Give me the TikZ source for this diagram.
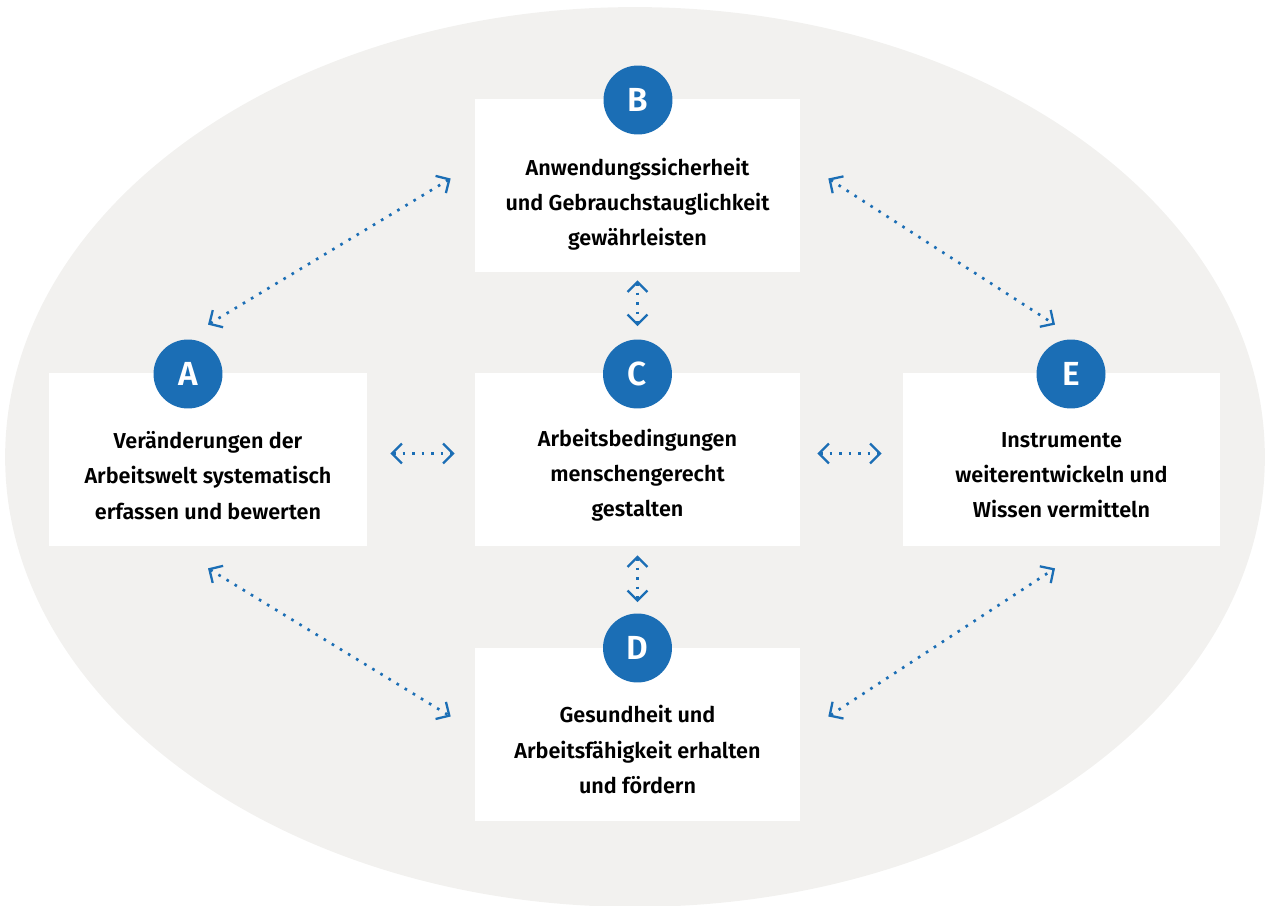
\documentclass[tikz,border=0pt]{standalone}
\usepackage{fontspec}
\setmainfont{Fira Sans}[BoldFont={Fira Sans SemiBold}]
\usepackage{tikz}
\usetikzlibrary{calc,arrows.meta}
\definecolor{oval}{HTML}{F2F1EF}
\definecolor{baua}{HTML}{1B6EB5}

\begin{document}
\begin{tikzpicture}[x=0.02cm,y=-0.02cm,font=\bfseries\fontsize{12.3}{20}\selectfont,
  box/.style={fill=white,minimum width=6.5cm,minimum height=3.46cm,inner sep=0pt},
  boxtext/.style={align=center,inner sep=0pt},
  badge/.style={circle,fill=baua,text=white,minimum size=1.38cm,inner sep=0pt,font=\bfseries\fontsize{19}{19}\selectfont},
  link/.style={baua,line width=1.5pt,dash pattern=on 1.5pt off 3.9pt,
    {Straight Barb[length=0.2cm,width=0.4cm,line width=1.3pt]}-{Straight Barb[length=0.2cm,width=0.4cm,line width=1.3pt]}}]
  \useasboundingbox (0,0) rectangle (1269,906);
  \fill[oval] (635,457) ellipse [x radius=12.6cm, y radius=9cm];

  % boxes
  \node[box,minimum width=6.36cm] (A) at (208,459.5) {};
  \node[box] (B) at (637.5,185.5) {};
  \node[box] (C) at (637.5,459.5) {};
  \node[box] (D) at (637.5,734.5) {};
  \node[box,minimum width=6.34cm] (E) at (1061.5,459.5) {};

  \node[boxtext] (Atext) at ([yshift=-0.32cm]A.center) {Veränderungen der\\Arbeitswelt systematisch\\erfassen und bewerten};
  \node[boxtext] (Btext) at ([yshift=-0.38cm]B.center) {Anwendungssicherheit\\und Gebrauchstauglichkeit\\gewährleisten};
  \node[boxtext] (Ctext) at ([yshift=-0.32cm]C.center) {Arbeitsbedingungen\\menschengerecht\\gestalten};
  \node[boxtext] (Dtext) at ([yshift=-0.30cm]D.center) {Gesundheit und\\Arbeitsfähigkeit erhalten\\und fördern};
  \node[boxtext] (Etext) at ([yshift=-0.32cm]E.center) {Instrumente\\weiterentwickeln und\\Wissen vermitteln};

  % letters
  \node[badge] (Abadge) at (188,374) {A};
  \node[badge] (Bbadge) at (638,100) {B};
  \node[badge] (Cbadge) at (637.5,374) {C};
  \node[badge] (Dbadge) at (637.5,648) {D};
  \node[badge] (Ebadge) at (1071,374) {E};

  % links
  \draw[link] ($(A.east)+(23,-6)$) -- ($(C.west)+(-20,-6)$);
  \draw[link] ($(C.east)+(17,-6)$) -- ($(E.west)+(-21,-6)$);
  \draw[link] ($(B.south)+(0,8)$) -- ($(Cbadge.north)+(0,-13)$);
  \draw[link] ($(C.south)+(0,9)$) -- ($(Dbadge.north)+(0,-11)$);
  \draw[link] ($(A.north)+(0,-48)$) -- ($(B.west)+(-24,-7)$);
  \draw[link] ($(B.east)+(28,-7)$) -- ($(E.north)+(-6.5,-48)$);
  \draw[link] ($(A.south)+(0,22)$) -- ($(D.west)+(-24,-18)$);
  \draw[link] ($(D.east)+(28,-18)$) -- ($(E.south)+(-6.5,22)$);
\end{tikzpicture}
\end{document}
